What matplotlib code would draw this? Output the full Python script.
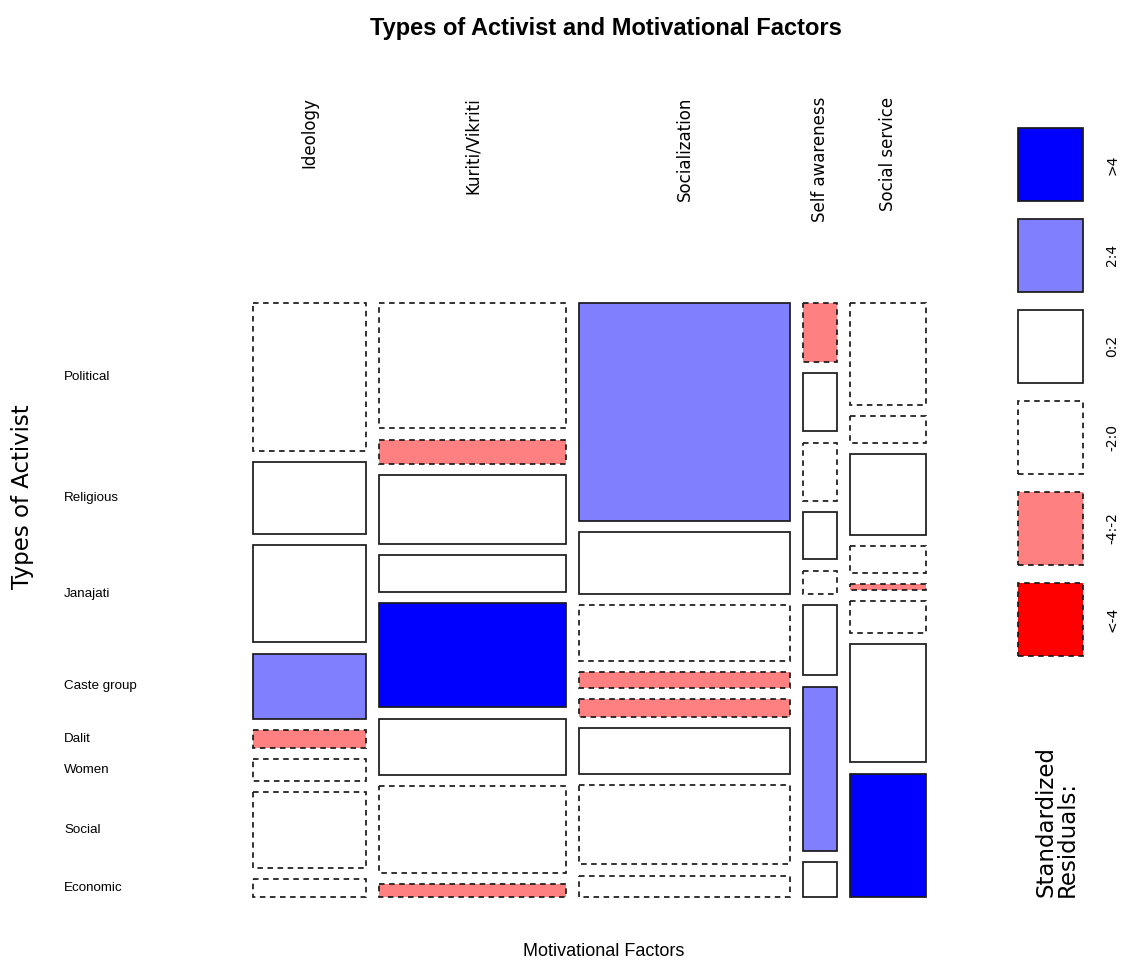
import numpy as np
import matplotlib.pyplot as plt
from matplotlib.patches import Rectangle
from matplotlib import transforms

W, H = 1121, 966

activist_types = ["Political", "Religious", "Janajati", "Caste group",
                  "Dalit", "Women", "Social", "Economic"]
factors = ["Ideology", "Kuriti/Vikriti", "Socialization",
           "Self awareness", "Social service"]

# counts per motivational factor, in the order of activist_types
ideology       = [41, 20, 27, 18, 5, 6, 21, 5]
kuriti_vikriti = [58, 11, 32, 17, 48, 26, 40, 6]
socialization  = [113, 32, 29, 8, 9, 24, 41, 11]
self_awareness = [5, 5, 5, 4, 2, 6, 14, 3]
social_service = [19, 5, 15, 5, 1, 6, 22, 23]

# standardized residual class of each cell (index into legend_labels)
ideology_res       = [2, 3, 3, 4, 1, 2, 2, 2]
kuriti_vikriti_res = [2, 1, 3, 3, 5, 3, 2, 1]
socialization_res  = [4, 3, 2, 1, 1, 3, 2, 2]
self_awareness_res = [1, 3, 2, 3, 2, 3, 4, 3]
social_service_res = [2, 2, 3, 2, 1, 2, 3, 5]

legend_labels = ["<-4", "-4:-2", "-2:0", "0:2", "2:4", ">4"]
legend_colors = ["#FF0000", "#FF8080", "white", "white", "#8080FF", "#0000FF"]

counts = np.array([ideology, kuriti_vikriti, socialization,
                   self_awareness, social_service], dtype=float)
resid = np.array([ideology_res, kuriti_vikriti_res, socialization_res,
                  self_awareness_res, social_service_res])

NARROW = ["Liberation Sans Narrow", "Liberation Sans", "DejaVu Sans"]
WIDE = ["DejaVu Sans"]
DASHED = (0, (3.2, 2.6))

def fx(x):
    return x / W

def fy(y):
    return 1 - y / H

fig = plt.figure(figsize=(W / 100, H / 100), dpi=100)
fig.patch.set_facecolor("white")

# mosaic area
left, right, top, bottom = 253, 926, 303, 897
ax = fig.add_axes([fx(left), fy(bottom), (right - left) / W, (bottom - top) / H])
ax.set_xlim(0, 1)
ax.set_ylim(1, 0)
ax.axis("off")

gap_x = 13 / (right - left)
gap_y = 11.3 / (bottom - top)
n_cols, n_rows = counts.shape

col_tot = counts.sum(axis=1)
widths = (1 - gap_x * (n_cols - 1)) * col_tot / col_tot.sum()

x0 = 0
col_centers = []
first_col_centers = []
for j in range(n_cols):
    heights = (1 - gap_y * (n_rows - 1)) * counts[j] / col_tot[j]
    y0 = 0
    for i in range(n_rows):
        k = resid[j, i]
        ls = DASHED if k < 3 else "solid"
        ax.add_patch(Rectangle((x0, y0), widths[j], heights[i],
                               facecolor=legend_colors[k], edgecolor="#1a1a1a",
                               lw=1.25, linestyle=ls, clip_on=False))
        if j == 0:
            first_col_centers.append(y0 + heights[i] / 2)
        y0 += heights[i] + gap_y
    col_centers.append(x0 + widths[j] / 2)
    x0 += widths[j] + gap_x

# row labels, placed along the first column
row_tr = transforms.blended_transform_factory(fig.transFigure, ax.transData)
for name, yc in zip(activist_types, first_col_centers):
    ax.text(fx(64), yc, name, transform=row_tr, ha="left", va="center",
            fontsize=9.6, family=NARROW)

# column labels on top
col_tr = transforms.blended_transform_factory(ax.transData, fig.transFigure)
for name, xc in zip(factors, col_centers):
    ax.text(xc, fy(97), name, transform=col_tr, rotation=90,
            ha="center", va="top", fontsize=12, family=WIDE)

fig.text(fx(606), fy(29), "Types of Activist and Motivational Factors",
         ha="center", va="center", fontsize=17, fontweight="bold", family=NARROW)
fig.text(fx(604), fy(952), "Motivational Factors", ha="center", va="center",
         fontsize=13, family=NARROW)
fig.text(fx(23), fy(497), "Types of Activist", rotation=90, ha="center",
         va="center", fontsize=16.5, family=WIDE)

# shading legend
lax = fig.add_axes([fx(1000), fy(897), (W - 1000) / W, (897 - 87.5) / H])
lax.set_xlim(0, 1)
lax.set_ylim(0, 1)
lax.axis("off")
bh = 0.1124
box_l, box_r = (1018 - 1000) / 121, (1083 - 1000) / 121
for n, k in enumerate(range(len(legend_labels) - 1, -1, -1)):
    y_t = 0.95 - n * bh
    y_b = y_t - 0.8 * bh
    ls = DASHED if k < 3 else "solid"
    lax.add_patch(Rectangle((box_l, y_b), box_r - box_l, y_t - y_b,
                            facecolor=legend_colors[k], edgecolor="#1a1a1a",
                            lw=1.25, linestyle=ls, clip_on=False))
    lax.text((1112 - 1000) / 121, (y_t + y_b) / 2, legend_labels[k],
             rotation=90, ha="center", va="center", fontsize=10, family=WIDE)
lax.text((1057 - 1000) / 121, 0, "Standardized\nResiduals:", rotation=90,
         ha="center", va="bottom", multialignment="left", linespacing=0.9,
         fontsize=16.5, family=WIDE)

fig.savefig("out.png", dpi=100)
